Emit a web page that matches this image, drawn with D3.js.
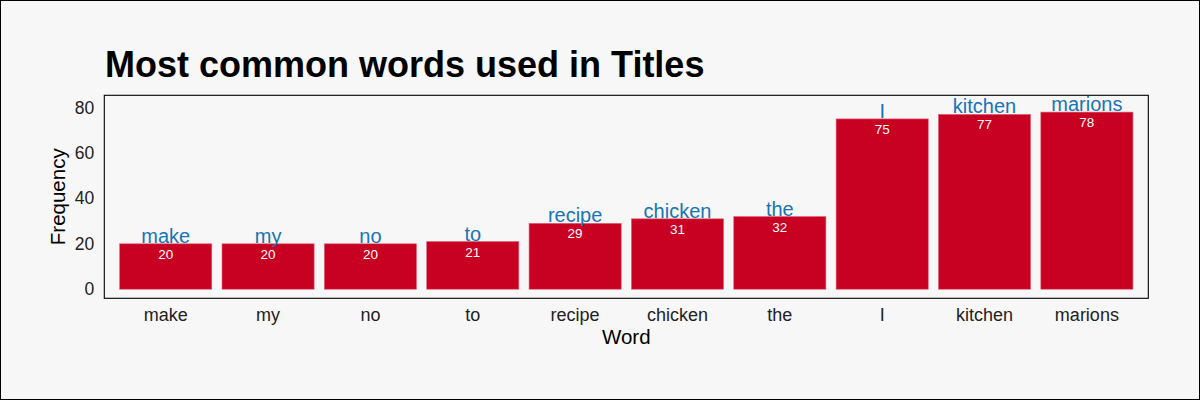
<!DOCTYPE html>
<html><head><meta charset="utf-8">
<script src="https://cdn.jsdelivr.net/npm/d3@7"></script>
<style>html,body{margin:0;padding:0;background:#f7f7f7;}svg{display:block;}</style>
</head><body>
<svg id="c" width="1200" height="400"></svg>
<script>
const words = ["make","my","no","to","recipe","chicken","the","I","kitchen","marions"];
const freqs = [20,20,20,21,29,31,32,75,77,78];
const yTicks = [0,20,40,60,80];
const title = "Most common words used in Titles";

const svg = d3.select("#c");
const font = "'Liberation Sans', Arial, sans-serif";
svg.append("rect").attr("x",0.5).attr("y",0.5).attr("width",1199).attr("height",399)
  .attr("fill","#f7f7f7").attr("stroke","#000").attr("stroke-width",1);

const pL=104.3, pR=1148.3, pT=95.3, pB=298.3;
const x = d3.scaleBand().domain(words).range([pL,pR]).paddingInner(0.1).paddingOuter(0.15);
const y = d3.scaleLinear().domain([-4,85.4]).range([pB,pT]);

svg.append("text").attr("x",105).attr("y",77).attr("font-family",font)
  .attr("font-weight","bold").attr("font-size",36).attr("fill","#000").text(title);

const g = svg.append("g");
g.selectAll("rect.bar").data(words).join("rect").attr("class","bar")
  .attr("x",d=>x(d)).attr("width",x.bandwidth())
  .attr("y",(d,i)=>y(freqs[i])).attr("height",(d,i)=>y(0)-y(freqs[i]))
  .attr("fill","#c80021").attr("stroke","#e0607a").attr("stroke-width",0.6);

g.selectAll("text.val").data(words).join("text").attr("class","val")
  .attr("x",d=>x(d)+x.bandwidth()/2).attr("y",(d,i)=>y(freqs[i])+15)
  .attr("text-anchor","middle").attr("font-family",font).attr("font-size",13.5)
  .attr("fill","#fff").text((d,i)=>freqs[i]);

g.selectAll("text.wl").data(words).join("text").attr("class","wl")
  .attr("x",d=>x(d)+x.bandwidth()/2).attr("y",(d,i)=>y(freqs[i])-1)
  .attr("text-anchor","middle").attr("font-family",font).attr("font-size",20)
  .attr("fill","#1874b4").text(d=>d);

svg.append("rect").attr("x",pL).attr("y",pT).attr("width",pR-pL).attr("height",pB-pT)
  .attr("fill","none").attr("stroke","#000").attr("stroke-width",1.1);

// y axis
const ya = svg.append("g").attr("transform",`translate(${pL},0)`)
  .call(d3.axisLeft(y).tickValues(yTicks).tickSize(0).tickPadding(10));
ya.select(".domain").remove();
ya.selectAll("text").attr("font-family",font).attr("font-size",17.5).attr("fill","#222");

// x axis
const xa = svg.append("g").attr("transform",`translate(0,${pB})`)
  .call(d3.axisBottom(x).tickSize(0).tickPadding(10));
xa.select(".domain").remove();
xa.selectAll("text").attr("font-family",font).attr("font-size",18).attr("fill","#222")
  .attr("dy",null).attr("y",23);

svg.append("text").attr("x",(pL+pR)/2).attr("y",344).attr("text-anchor","middle")
  .attr("font-family",font).attr("font-size",20.5).attr("fill","#000").text("Word");
svg.append("text").attr("transform",`translate(65,${(pT+pB)/2}) rotate(-90)`)
  .attr("text-anchor","middle").attr("font-family",font).attr("font-size",20.5)
  .attr("fill","#000").text("Frequency");
</script>
</body></html>
